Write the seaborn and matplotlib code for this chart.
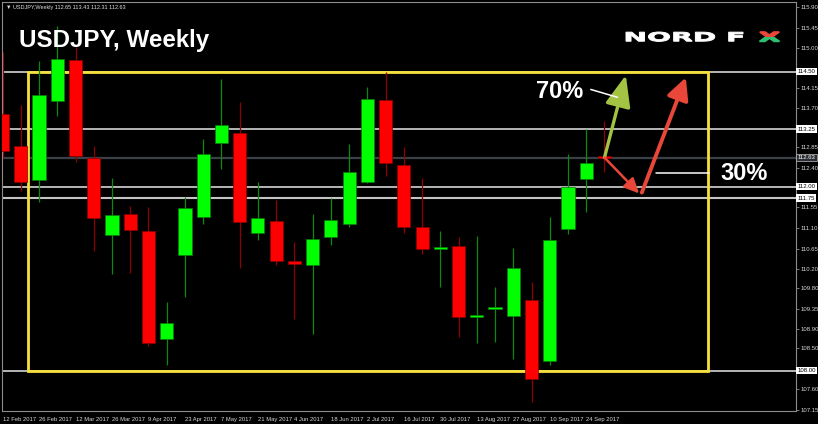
import matplotlib
matplotlib.use("Agg")
import matplotlib.pyplot as plt
import seaborn as sns
import numpy as np
import pandas as pd
from matplotlib.patches import Rectangle, PathPatch
from matplotlib.textpath import TextPath
from matplotlib.font_manager import FontProperties
from matplotlib.transforms import Affine2D, IdentityTransform, blended_transform_factory

# ---------------- data ----------------
week = list(range(34))
opens  = [113.58, 112.88, 112.14, 113.86, 114.74, 112.63, 110.94, 111.40, 111.03, 108.69,
          110.51, 111.34, 112.95, 113.16, 111.00, 111.25, 110.36, 110.30, 110.90, 111.19,
          112.10, 113.87, 112.46, 111.12, 110.65, 110.71, 109.17, 109.35, 109.18, 109.53,
          108.20, 111.08, 112.16, 112.65]
highs  = [114.93, 113.77, 114.73, 115.49, 115.03, 112.88, 112.19, 111.58, 111.56, 109.49,
          111.77, 113.03, 114.34, 113.84, 112.11, 111.70, 110.80, 111.40, 111.76, 112.92,
          114.16, 114.49, 112.85, 112.19, 111.03, 110.91, 110.93, 109.82, 110.66, 109.92,
          111.33, 112.71, 113.24, 113.43]
lows   = [112.61, 111.91, 111.67, 113.53, 112.54, 110.61, 110.10, 110.12, 108.54, 108.12,
          109.59, 111.19, 112.38, 110.22, 110.84, 110.30, 109.12, 108.80, 110.73, 111.13,
          112.07, 112.24, 110.99, 110.54, 109.82, 108.73, 108.60, 108.63, 108.26, 107.32,
          108.12, 110.98, 111.45, 112.31]
closes = [112.78, 112.11, 114.00, 114.77, 112.67, 111.31, 111.38, 111.06, 108.60, 109.03,
          111.53, 112.70, 113.33, 111.22, 111.32, 110.39, 110.34, 110.86, 111.27, 112.31,
          113.90, 112.52, 111.12, 110.65, 110.67, 109.16, 109.19, 109.37, 110.24, 107.83,
          110.84, 111.98, 112.51, 112.63]
date_labels = ["12 Feb 2017", "26 Feb 2017", "12 Mar 2017", "26 Mar 2017", "9 Apr 2017",
               "23 Apr 2017", "7 May 2017", "21 May 2017", "4 Jun 2017", "18 Jun 2017",
               "2 Jul 2017", "16 Jul 2017", "30 Jul 2017", "13 Aug 2017", "27 Aug 2017",
               "10 Sep 2017", "24 Sep 2017"]
ytick_values = [115.90, 115.45, 115.00, 114.15, 113.70, 112.85, 112.40, 111.55, 111.10,
                110.65, 110.20, 109.80, 109.35, 108.90, 108.50, 107.60, 107.15]
white_levels = [114.50, 113.25, 112.00, 108.00]
grey_level = 111.75
current_price = 112.63
box_range = [1.37, 38.70, 108.00, 114.48]   # x0, x1, y0, y1 of the yellow box
header = "\u25bc USDJPY,Weekly 112.65 113.43 112.31 112.63"
title = "USDJPY, Weekly"

# annotation geometry (data coordinates)
green_arrow = [(33.0, 112.63), (34.17, 114.42)]
red_arrow1 = [(33.0, 112.63), (34.90, 111.85)]
red_arrow2 = [(35.05, 111.87), (37.46, 114.37)]
pointer70 = [(32.25, 33.71), (114.11, 113.94)]
pointer30 = [(35.81, 38.72), (112.30, 112.30)]
label70 = (29.23, 113.92, "70%")
label30 = (39.38, 112.14, "30%")

# ---------------- style ----------------
sns.set_theme(style="dark", rc={"axes.facecolor": "black", "figure.facecolor": "black",
                                "axes.grid": False})
plt.rcParams['font.family'] = ['Liberation Sans', 'DejaVu Sans']

W, H = 818, 424
fig = plt.figure(figsize=(W / 100, H / 100), dpi=100, facecolor='black')
ax = fig.add_axes([2 / W, 13 / H, 794 / W, 409 / H])
ax.set_facecolor('black')
ax.set_xlim(-0.03, 43.5)
ax.set_ylim(107.124, 116.01)

df = pd.DataFrame(dict(week=week, open=opens, high=highs, low=lows, close=closes))
df['bull'] = df['close'] >= df['open']

# level lines
for lv in white_levels:
    ax.axhline(lv, color='#e6e6e6', lw=1.1, zorder=1)
ax.axhline(grey_level, color='#c4c4c4', lw=1.5, zorder=1)
ax.axhline(current_price, color='#3b4048', lw=1.6, zorder=1)

# yellow box
bx0, bx1, by0, by1 = box_range
ax.add_patch(Rectangle((bx0, by0), bx1 - bx0, by1 - by0, fill=False,
                       ec='#f7e03c', lw=2.0, zorder=1.5))

# wicks
bull_df = df[df['bull']]
bear_df = df[~df['bull']]
ax.vlines(bull_df['week'], bull_df['low'], bull_df['high'], color='#0c8a0c', lw=0.9, zorder=2)
ax.vlines(bear_df['week'], bear_df['low'], bear_df['high'], color='#900000', lw=0.9, zorder=2)

# bodies
min_h = 0.045
for sub, fc, ec in [(bull_df, '#00ff00', '#0a7a0a'), (bear_df, '#ff0000', '#8a0000')]:
    lo = np.minimum(sub['open'], sub['close']).to_numpy()
    hi = np.maximum(sub['open'], sub['close']).to_numpy()
    h = hi - lo
    mid = (hi + lo) / 2
    bottom = np.where(h < min_h, mid - min_h / 2, lo)
    h = np.maximum(h, min_h)
    ax.bar(sub['week'], h, bottom=bottom, width=0.72, color=fc, edgecolor=ec,
           linewidth=0.5, zorder=3)

# spines
for s in ax.spines.values():
    s.set_color('#8c8c8c')
    s.set_linewidth(0.8)

# axes ticks
ax.yaxis.tick_right()
ax.set_yticks(ytick_values)
ax.set_yticklabels([f"{v:.2f}" for v in ytick_values])
ax.tick_params(axis='y', colors='#8c8c8c', labelcolor='#d8d8d8', labelsize=4.3,
               length=2, width=0.6, pad=1.5, direction='out')
ax.set_xticks(week[::2])
ax.set_xticklabels(date_labels, ha='left')
ax.tick_params(axis='x', colors='#8c8c8c', labelcolor='#d8d8d8', labelsize=4.2,
               length=3, width=0.6, pad=1.5, direction='out')
ax.set_xlabel("")
ax.set_ylabel("")

# boxed price labels on the right
tr = blended_transform_factory(ax.transAxes, ax.transData)
for lv in white_levels + [grey_level]:
    ax.text(1.002, lv, f"{lv:.2f}", transform=tr, fontsize=4.3, color='black',
            va='center', ha='left', clip_on=False, zorder=10,
            bbox=dict(boxstyle='square,pad=0.2', fc='white', ec='none'))
ax.text(1.002, current_price, f"{current_price:.2f}", transform=tr, fontsize=4.3,
        color='white', va='center', ha='left', clip_on=False, zorder=10,
        bbox=dict(boxstyle='square,pad=0.2', fc='#2a2e34', ec='#c0c0c0', lw=0.5))

# arrows
def arrow(pts, color, lw, hl, hw):
    ax.annotate("", xy=pts[1], xytext=pts[0],
                arrowprops=dict(arrowstyle=f"-|>,head_length={hl},head_width={hw}",
                                color=color, lw=lw, shrinkA=0, shrinkB=0),
                zorder=6)

arrow(green_arrow, '#a3c443', 2.4, 1.6, 0.65)
arrow(red_arrow1, '#e8473a', 1.8, 0.75, 0.35)
arrow(red_arrow2, '#e8473a', 2.8, 1.1, 0.55)

ax.plot(pointer70[0], pointer70[1], color='white', lw=1.1, zorder=6)
ax.plot(pointer30[0], pointer30[1], color='white', lw=1.1, zorder=6)
ax.text(label70[0], label70[1], label70[2], fontsize=17, fontweight='bold', color='white',
        ha='left', va='baseline', zorder=7)
ax.text(label30[0], label30[1], label30[2], fontsize=17, fontweight='bold', color='white',
        ha='left', va='baseline', zorder=7)

# titles
fig.text(19 / W, 1 - 47 / H, title, fontsize=17.4, fontweight='bold', color='white',
         ha='left', va='baseline')
fig.text(6 / W, 1 - 9 / H, header, fontsize=4.0, color='#e0e0e0', ha='left', va='baseline')

# NORD FX logo built from text paths (stretched wide)
fp = FontProperties(family='DejaVu Sans', weight='bold')

def logo_path(s, x0, x1, ytop, ybot, color, lw=0.0, clip=None):
    tp = TextPath((0, 0), s, size=20, prop=fp)
    ext = tp.get_extents()
    yt, yb = H - ytop, H - ybot
    sx = (x1 - x0) / ext.width
    sy = (yt - yb) / ext.height
    t = Affine2D().translate(-ext.x0, -ext.y0).scale(sx, sy).translate(x0, yb)
    p = PathPatch(tp, transform=t, fc=color, ec=color if lw > 0 else 'none', lw=lw)
    fig.add_artist(p)
    if clip is not None:
        r = Rectangle((clip[0], clip[1]), clip[2], clip[3], transform=IdentityTransform())
        p.set_clip_path(r)
    return p

logo_path("NORD F", 626, 743, 32.0, 41.4, 'white', lw=0.7)
logo_path("X", 759.5, 779.5, 32.0, 41.4, '#e8473a', lw=1.2, clip=(755, H - 36.7, 30, 10))
logo_path("X", 759.5, 779.5, 32.0, 41.4, '#2fbf71', lw=1.2, clip=(755, H - 45, 30, 8.3))

fig.savefig("out.png", dpi=100, facecolor='black')
